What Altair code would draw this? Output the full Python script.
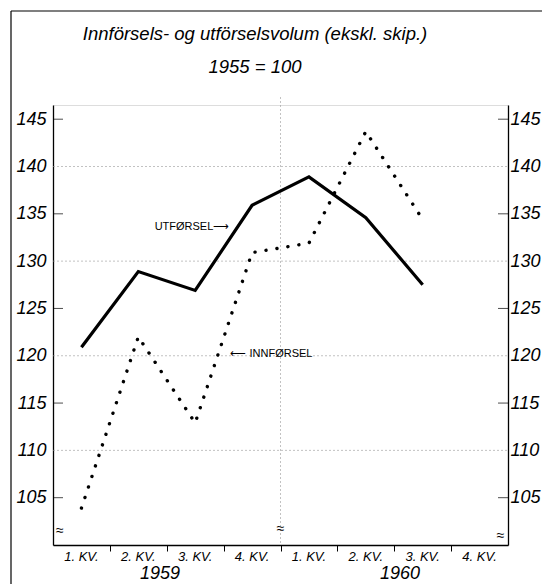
import altair as alt
import pandas as pd

title_lines = ["Innförsels- og utförselsvolum (ekskl. skip.)", "1955 = 100"]
quarters = ["1. KV.", "2. KV.", "3. KV.", "4. KV.", "1. KV.", "2. KV.", "3. KV.", "4. KV."]
year_labels = ["1959", "1960"]
year_pos = [1.88, 6.1]
utforsel = [120.9, 128.9, 126.9, 135.9, 138.9, 134.6, 127.5]
innforsel = [103.9, 122.0, 112.9, 130.9, 131.9, 143.7, 134.4]
y_labels = [105, 110, 115, 120, 125, 130, 135, 140, 145]
grid_vals = [110, 120, 130, 140]
short_ticks = [105, 115, 125, 135, 145]
boundaries = [1, 2, 3, 4, 5, 6, 7]

W, H = 455, 440
FONT = "Liberation Sans"
ydom = [100, 146.5]

xs = alt.Scale(domain=[0, 8], nice=False, zero=False)
ys = alt.Scale(domain=ydom, nice=False, zero=False)

df_u = pd.DataFrame({"x": [i + 0.5 for i in range(len(utforsel))], "v": utforsel})
df_i = pd.DataFrame({"x": [i + 0.5 for i in range(len(innforsel))], "v": innforsel})
df_q = pd.DataFrame({"x": [i + 0.5 for i in range(len(quarters))], "q": quarters})
df_y = pd.DataFrame({"x": year_pos, "t": year_labels})
df_grid = pd.DataFrame({"v": grid_vals})
df_short = pd.DataFrame({"v": short_ticks})
df_b = pd.DataFrame({"x": boundaries})

YN = alt.Y("v:Q", scale=ys, axis=None)
XN = alt.X("x:Q", scale=xs)

left = alt.Chart(df_grid).mark_rule(color="#999", strokeWidth=0.6, strokeDash=[2, 2]).encode(
    y=alt.Y("v:Q", scale=ys, axis=alt.Axis(
        values=y_labels, orient="left", title=None, grid=False, tickSize=0,
        labelFontSize=18, labelFont=FONT, labelFontStyle="italic", labelColor="black",
        labelPadding=7, domainColor="black", domainWidth=1.3)),
    x=alt.value(0), x2=alt.value(W),
)

right = alt.Chart(df_grid).mark_rule(opacity=0).encode(
    y=alt.Y("v:Q", scale=ys, axis=alt.Axis(
        values=y_labels, orient="right", title=None, grid=False, tickSize=0,
        labelFontSize=18, labelFont=FONT, labelFontStyle="italic", labelColor="black",
        labelPadding=2, domainColor="black", domainWidth=1.3)),
    x=alt.value(0), x2=alt.value(W),
)

xaxis = alt.Chart(df_b).mark_rule(color="#999", strokeWidth=0.6, strokeDash=[2, 2]).transform_filter(
    alt.datum.x == 4
).encode(
    x=alt.X("x:Q", scale=xs, axis=alt.Axis(
        values=boundaries, title=None, labels=False, grid=False, tickSize=6,
        tickColor="black", domainColor="black", domainWidth=1.3)),
    y=alt.value(-8), y2=alt.value(H),
)

short_l = alt.Chart(df_short).mark_tick(color="black", thickness=1, size=10, orient="horizontal").encode(
    y=YN, x=alt.value(5))
short_r = alt.Chart(df_short).mark_tick(color="black", thickness=1, size=10, orient="horizontal").encode(
    y=YN, x=alt.value(W - 5))

line_u = alt.Chart(df_u).mark_line(color="black", strokeWidth=3.2, strokeJoin="miter").encode(
    x=XN, y=YN)
line_i = alt.Chart(df_i).mark_line(color="black", strokeWidth=3.4, strokeDash=[0.1, 11], strokeCap="round").encode(
    x=XN, y=YN)

qlab = alt.Chart(df_q).mark_text(font=FONT, fontStyle="italic", fontSize=13, baseline="top").encode(
    x=XN, y=alt.value(H + 6), text="q:N")
ylab = alt.Chart(df_y).mark_text(font=FONT, fontStyle="italic", fontSize=18, baseline="top").encode(
    x=XN, y=alt.value(H + 20), text="t:N")

ann_x = [3.1, 3.12]
ann_y = [133.6, 120.2]
ann_t = ["UTFØRSEL\u27f6", "\u27f5 INNFØRSEL"]
df_ar = pd.DataFrame({"x": ann_x[:1], "v": ann_y[:1], "t": ann_t[:1]})
df_al = pd.DataFrame({"x": ann_x[1:], "v": ann_y[1:], "t": ann_t[1:]})
ann_r = alt.Chart(df_ar).mark_text(font=FONT, fontSize=11, align="right", baseline="middle").encode(
    x=XN, y=YN, text="t:N")
ann_l = alt.Chart(df_al).mark_text(font=FONT, fontSize=11, align="left", baseline="middle").encode(
    x=XN, y=YN, text="t:N")

brk_x = [0.12, 4.0, 7.87]
brk_y = [101.5, 101.7, 100.9]
df_brk = pd.DataFrame({"x": brk_x, "v": brk_y, "t": ["\u2248"] * 3})
brk = alt.Chart(df_brk).mark_text(font=FONT, fontSize=14).encode(
    x=XN, y=YN, text="t:N")

df_t = pd.DataFrame({"t": title_lines, "i": [0, 1]})
t1 = alt.Chart(df_t.head(1)).mark_text(font=FONT, fontStyle="italic", fontSize=18.5, baseline="alphabetic").encode(
    x=alt.value(202), y=alt.value(-65), text="t:N")
t2 = alt.Chart(df_t.tail(1)).mark_text(font=FONT, fontStyle="italic", fontSize=18.5, baseline="alphabetic").encode(
    x=alt.value(202), y=alt.value(-32), text="t:N")

frame_top = alt.Chart(df_grid.head(1)).mark_rule(color="black", strokeWidth=1.2).encode(
    x=alt.value(-42), x2=alt.value(W + 40), y=alt.value(-94))
frame_left = alt.Chart(df_grid.head(1)).mark_rule(color="black", strokeWidth=1.2).encode(
    x=alt.value(-42), y=alt.value(-94), y2=alt.value(H + 45))

chart = alt.layer(
    left, right, xaxis, short_l, short_r, line_i, line_u, qlab, ylab, ann_r, ann_l, brk, t1, t2,
    frame_top, frame_left
).resolve_axis(y="independent").properties(
    width=W, height=H,
    autosize=alt.AutoSizeParams(type="none"),
    padding={"left": 45, "top": 97, "right": 34, "bottom": 39},
).configure_view(stroke=None).configure(background="white")

chart.save("out.html", embed_options={"renderer": "svg", "actions": False})
